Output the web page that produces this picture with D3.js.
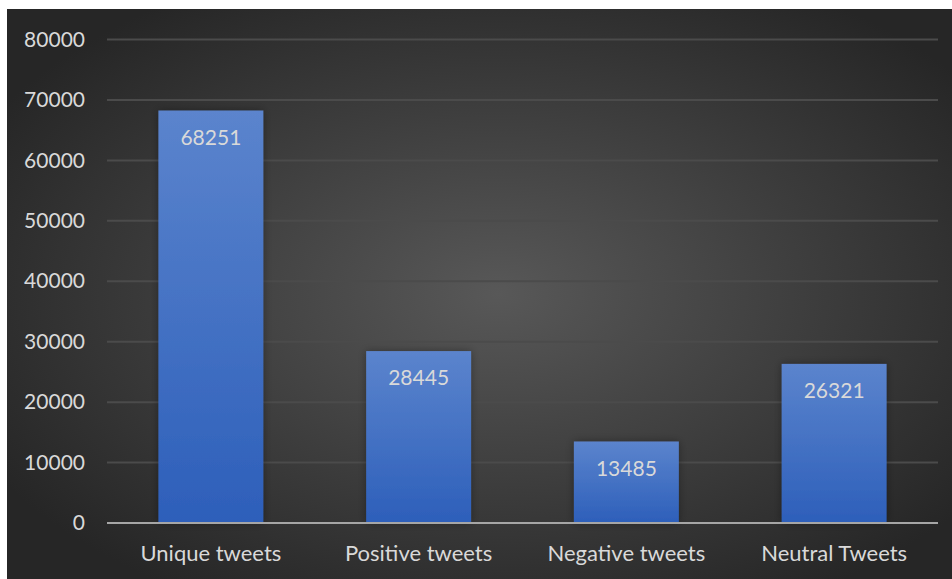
<!DOCTYPE html>
<html>
<head>
<meta charset="utf-8">
<script src="https://cdn.jsdelivr.net/npm/d3@7"></script>
<style>
  html, body { margin: 0; padding: 0; background: #fff; }
  svg { display: block; }
</style>
</head>
<body>
<svg></svg>
<script>
const width = 952;
const height = 579;

// data
const categories = ["Unique tweets", "Positive tweets", "Negative tweets", "Neutral Tweets"];
const counts = [68251, 28445, 13485, 26321];
const yTicks = [0, 10000, 20000, 30000, 40000, 50000, 60000, 70000, 80000];

const font = "Lato, 'Open Sans', sans-serif";
const textColor = "#d9d9d9";

let svg = d3.select("svg").attr("width", width).attr("height", height);
let defs = svg.append("defs");

let bg = defs.append("radialGradient").attr("id", "bg")
    .attr("cx", "52%").attr("cy", "50%").attr("r", "62%");
bg.append("stop").attr("offset", "0%").attr("stop-color", "#585858");
bg.append("stop").attr("offset", "100%").attr("stop-color", "#262626");

let barGrad = defs.append("linearGradient").attr("id", "bar")
    .attr("x1", 0).attr("y1", 0).attr("x2", 0).attr("y2", 1);
barGrad.append("stop").attr("offset", "0%").attr("stop-color", "#5b84cd");
barGrad.append("stop").attr("offset", "100%").attr("stop-color", "#2d5fba");

let shadow = defs.append("filter").attr("id", "shadow")
    .attr("x", "-20%").attr("y", "-20%").attr("width", "140%").attr("height", "140%");
shadow.append("feDropShadow").attr("dx", 0).attr("dy", 0).attr("stdDeviation", 4)
    .attr("flood-color", "#000").attr("flood-opacity", 0.35);

// background panel
svg.append("rect").attr("x", 7).attr("y", 9).attr("width", width - 7).attr("height", height - 9)
    .attr("fill", "url(#bg)");

const plotLeft = 107, plotRight = 938, plotTop = 39.5, plotBottom = 523;

let x = d3.scaleBand().domain(categories).range([plotLeft, plotRight]).paddingInner(0.495).paddingOuter(0.2475);
let y = d3.scaleLinear().domain([0, 80000]).range([plotBottom, plotTop]);

// gridlines
svg.append("g").selectAll("line").data(yTicks.filter(d => d > 0)).join("line")
    .attr("x1", plotLeft).attr("x2", plotRight)
    .attr("y1", d => y(d)).attr("y2", d => y(d))
    .attr("stroke", "#4b4b4b").attr("stroke-width", 2);

// y axis labels
let yAxis = svg.append("g").attr("transform", `translate(${plotLeft - 22},0)`)
    .call(d3.axisLeft(y).tickValues(yTicks).tickFormat(d3.format("d")).tickSize(0).tickPadding(0));
yAxis.select(".domain").remove();
yAxis.selectAll("text").attr("fill", textColor).attr("font-family", font).attr("font-size", 21);

// bars
svg.append("g").selectAll("rect").data(counts).join("rect")
    .attr("x", (d, i) => x(categories[i]))
    .attr("y", d => y(d))
    .attr("width", x.bandwidth())
    .attr("height", d => plotBottom - y(d))
    .attr("fill", "url(#bar)")
    .attr("filter", "url(#shadow)");

// value labels
svg.append("g").selectAll("text").data(counts).join("text")
    .attr("x", (d, i) => x(categories[i]) + x.bandwidth() / 2)
    .attr("y", d => y(d) + 34)
    .attr("text-anchor", "middle")
    .attr("fill", textColor).attr("font-family", font).attr("font-size", 21)
    .text(d => d);

// baseline
svg.append("line").attr("x1", plotLeft).attr("x2", plotRight)
    .attr("y1", plotBottom).attr("y2", plotBottom)
    .attr("stroke", "#a6a6a6").attr("stroke-width", 2);

// category labels
let xAxis = svg.append("g").attr("transform", `translate(0,${plotBottom})`)
    .call(d3.axisBottom(x).tickSize(0).tickPadding(22));
xAxis.select(".domain").remove();
xAxis.selectAll("text").attr("fill", textColor).attr("font-family", font).attr("font-size", 22);
</script>
</body>
</html>
